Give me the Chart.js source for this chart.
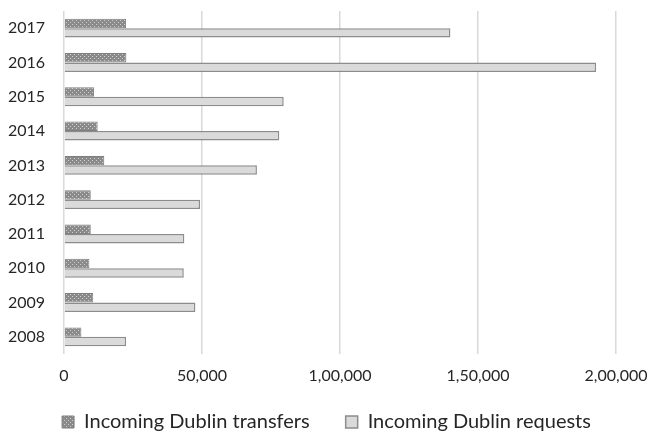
<!DOCTYPE html>
<html>
<head>
<meta charset="utf-8">
<script src="https://cdn.jsdelivr.net/npm/chart.js@4.4.1/dist/chart.umd.min.js"></script>
<style>
  html, body { margin: 0; padding: 0; background: #fff; }
  #wrap { width: 653px; height: 437px; }
</style>
</head>
<body>
<div id="wrap"><canvas id="chart"></canvas></div>
<script>
// data, top row first
const years = ['2017', '2016', '2015', '2014', '2013', '2012', '2011', '2010', '2009', '2008'];
const transfers = [22500, 22600, 10900, 12200, 14600, 9700, 9700, 9200, 10600, 6300];
const requests = [140000, 192800, 79600, 78000, 69900, 49300, 43600, 43400, 47600, 22500];
const xTicks = [0, 50000, 100000, 150000, 200000];

// dotted fill for the transfers bars
function dotPattern() {
    const c = document.createElement('canvas');
    c.width = 4;
    c.height = 4;
    const g = c.getContext('2d');
    g.fillStyle = '#8a8a8a';
    g.fillRect(0, 0, 4, 4);
    g.fillStyle = '#cfcfcf';
    g.fillRect(0, 0, 1, 1);
    g.fillRect(2, 2, 1, 1);
    return g.createPattern(c, 'repeat');
}

const fmt = new Intl.NumberFormat('en-IN');
const textColor = '#262626';

// legend keeps wide gaps between items but a fixed height
const legendHeight = {
    id: 'legendHeight',
    afterInit(chart) {
        const lg = chart.legend;
        const fit = lg.fit.bind(lg);
        lg.fit = function () {
            fit();
            this.height = 61;
        };
    }
};

new Chart(document.getElementById('chart'), {
    type: 'bar',
    data: {
        labels: years,
        datasets: [
            {
                label: 'Incoming Dublin transfers',
                data: transfers,
                backgroundColor: dotPattern(),
                borderColor: '#7f7f7f',
                borderWidth: 1,
                categoryPercentage: 0.55,
                barPercentage: 1
            },
            {
                label: 'Incoming Dublin requests',
                data: requests,
                backgroundColor: '#dadada',
                borderColor: '#8c8c8c',
                borderWidth: 1.5,
                categoryPercentage: 0.55,
                barPercentage: 1
            }
        ]
    },
    options: {
        indexAxis: 'y',
        responsive: true,
        maintainAspectRatio: false,
        animation: false,
        layout: { padding: { top: 11, right: 0, left: 0, bottom: 0 } },
        plugins: {
            tooltip: { enabled: false },
            legend: {
                position: 'bottom',
                labels: {
                    color: textColor,
                    font: { family: 'Lato', size: 20 },
                    boxWidth: 12,
                    boxHeight: 12,
                    padding: 36
                }
            }
        },
        scales: {
            x: {
                min: 0,
                max: 200000,
                afterBuildTicks: s => { s.ticks = xTicks.map(v => ({ value: v })); },
                ticks: {
                    color: textColor,
                    font: { family: 'Lato', size: 16 },
                    padding: 12,
                    callback: v => fmt.format(v)
                },
                grid: { color: '#d9d9d9', lineWidth: 1.5, drawTicks: false },
                border: { display: false },
                afterFit: s => {
                    s.height = 22;
                    s.paddingLeft = 0;
                    s.paddingRight = 37;
                    // labels hang below the short box, so do not clip them
                    s._computeLabelArea = () => undefined;
                }
            },
            y: {
                ticks: {
                    color: textColor,
                    font: { family: 'Lato', size: 16 },
                    padding: 11
                },
                grid: { display: false },
                border: { display: false },
                afterFit: s => {
                    s.width = 64;
                    s.paddingTop = 0;
                    s.paddingBottom = 0;
                }
            }
        }
    },
    plugins: [legendHeight]
});
</script>
</body>
</html>
